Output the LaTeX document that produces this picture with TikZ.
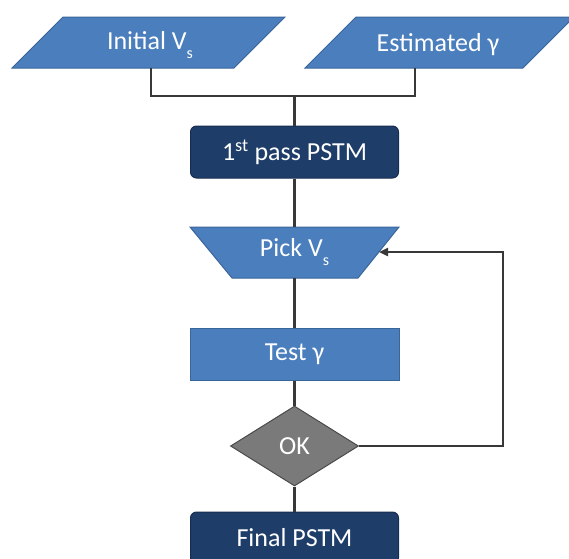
\documentclass[tikz,border=0pt]{standalone}
\usepackage{fontspec}
\setmainfont{Carlito}
\usetikzlibrary{arrows.meta,shapes.geometric}
\definecolor{lblue}{HTML}{4A7EBD}
\definecolor{lblueb}{HTML}{3A659A}
\definecolor{dblue}{HTML}{1F3D69}
\definecolor{dblueb}{HTML}{172E50}
\definecolor{dgray}{HTML}{7A7A7A}
\definecolor{dgrayb}{HTML}{4A4A4A}
\definecolor{conncol}{HTML}{383838}
\newcommand{\subs}{\raisebox{-0.32em}{\fontsize{16}{16}\selectfont s}}
\begin{document}
\begin{tikzpicture}[x=1pt,y=-1pt,
  lshape/.style={fill=lblue,draw=lblueb,line width=1pt},
  txt/.style={text=white,font=\fontsize{26}{30}\selectfont,inner sep=0pt},
  darkbox/.style={rectangle,rounded corners=6pt,fill=dblue,draw=dblueb,line width=1pt,
     minimum width=208pt,minimum height=52pt,text=white,font=\fontsize{26}{30}\selectfont,inner sep=0pt},
  lightbox/.style={rectangle,fill=lblue,draw=lblueb,line width=1pt,
     minimum width=209pt,minimum height=52pt,text=white,font=\fontsize{26}{30}\selectfont,inner sep=0pt},
  okbox/.style={diamond,aspect=1.6,fill=dgray,draw=dgrayb,line width=1pt,
     minimum width=128pt,minimum height=80pt,text=white,font=\fontsize{26}{30}\selectfont,inner sep=0pt},
  conn/.style={draw=conncol,line width=2.4pt},
  arr/.style={conn,-{Triangle[length=9pt,width=8pt]}}]
\useasboundingbox (0,0) rectangle (569,558);
\begin{scope}
\clip (0,0) rectangle (569,558);
% input parallelograms
\fill[lshape] (12,68) -- (63,17) -- (285,17) -- (234,68) -- cycle;
\fill[lshape] (305,68) -- (356,17) -- (574,17) -- (523,68) -- cycle;
\node[txt] (ini) at (150,45) {Initial V\subs};
\node[txt] (est) at (438,45) {Estimated γ};
% connectors of inputs
\coordinate (iniB) at (151,68);
\coordinate (estB) at (415,68);
\coordinate (jl) at (151,96);
\coordinate (jr) at (415,96);
\coordinate (jm) at (294.5,96);
% boxes
\node[darkbox] (pass) at (294.5,152) {1\textsuperscript{st} pass PSTM};
\fill[lshape] (190,227) -- (399,227) -- (358,278) -- (232,278) -- cycle;
\node[txt] (pick) at (294.5,252) {Pick V\subs};
\coordinate (pickT) at (294.5,227);
\coordinate (pickB) at (294.5,278);
\coordinate (pickR) at (379,252);
\node[lightbox] (test) at (294.5,354) {Test γ};
\node[okbox] (ok) at (294.5,446) {OK};
\node[darkbox] (final) at (294.5,538) {Final PSTM};
\coordinate (loopB) at (503,446);
\coordinate (loopT) at (503,252);
\draw[conn] (iniB) -- (jl) -- (jr) -- (estB);
\draw[conn] (jm) -- (pass.north);
\draw[conn] (pass.south) -- (pickT);
\draw[conn] (pickB) -- (test.north);
\draw[conn] (test.south) -- (ok.north);
\draw[conn] (ok.south) -- (final.north);
\draw[arr] (ok.east) -- (loopB) -- (loopT) -- (pickR);
\end{scope}
\end{tikzpicture}
\end{document}
